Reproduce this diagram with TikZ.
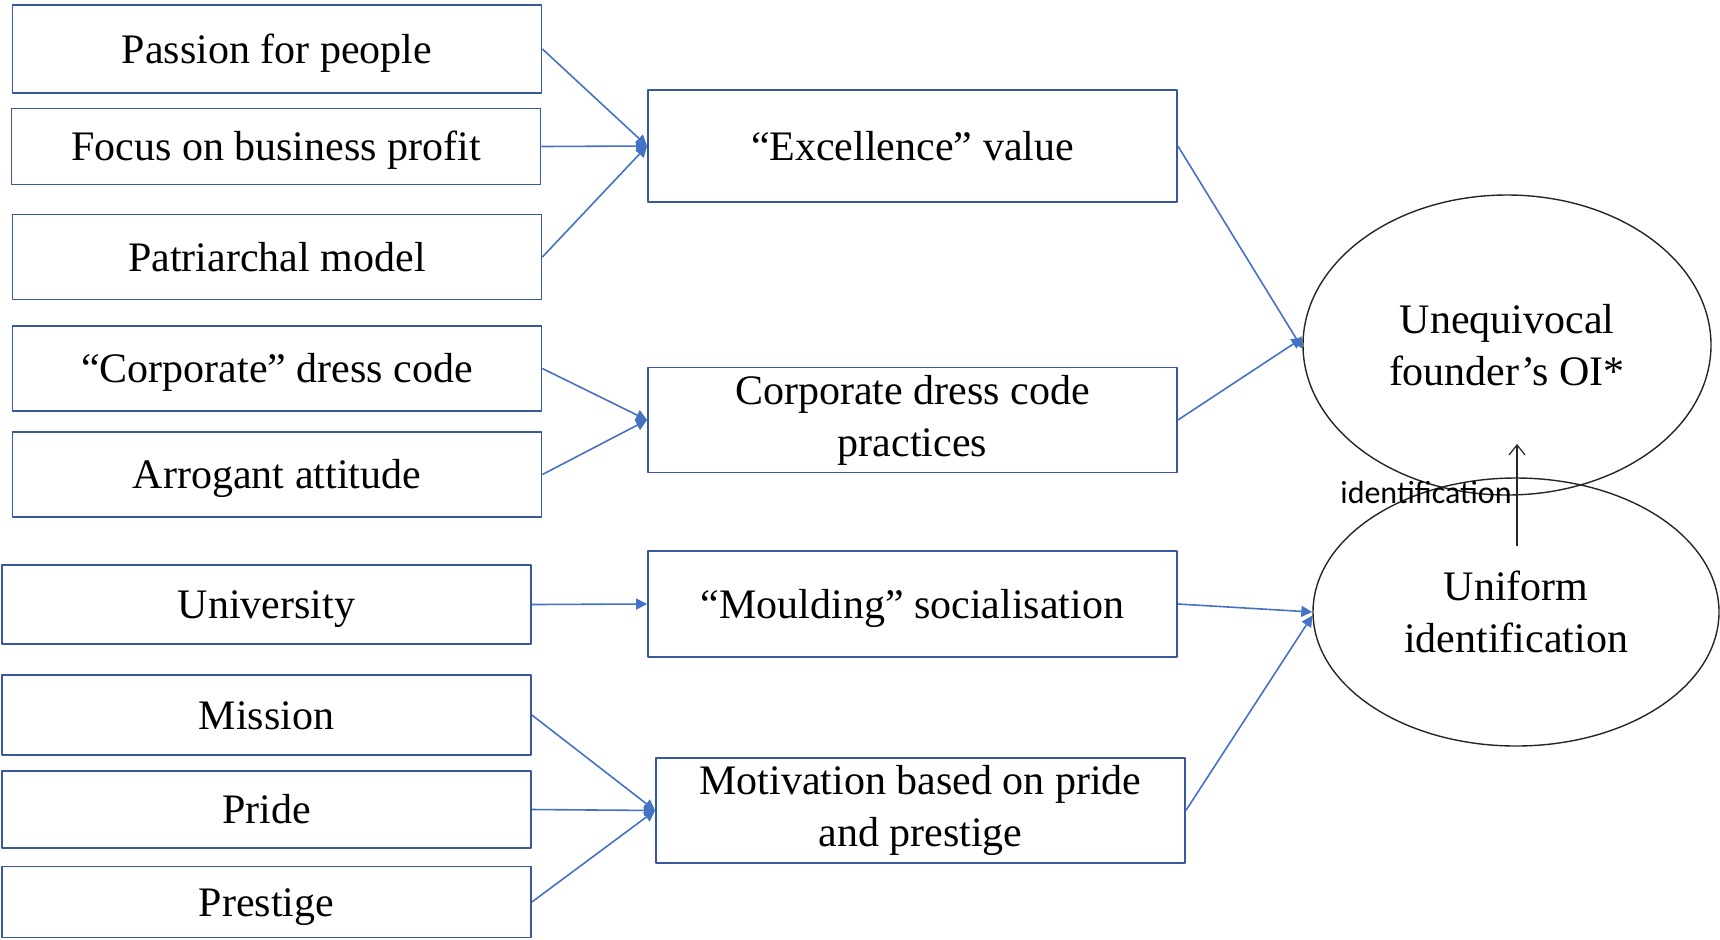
\documentclass[tikz,border=0pt]{standalone}
\usepackage{fontspec}
\setmainfont{Liberation Serif}
\newfontfamily\labelfont{Carlito}
\usetikzlibrary{shapes.geometric,arrows.meta}
\definecolor{boxblue}{RGB}{56,87,158}
\definecolor{arrowblue}{RGB}{68,114,196}

\begin{document}
\begin{tikzpicture}[x=0.5pt, y=-0.5pt, font=\fontsize{21}{26}\selectfont, line join=round,
  box/.style={draw=boxblue, line width=0.9pt, inner sep=0pt, minimum width=264.5pt, align=center},
  single/.style={box, text height=15pt, text depth=1pt},
  oval/.style={ellipse, draw=black!85, line width=0.7pt, inner sep=0pt, align=center},
  link/.style={draw=arrowblue, line width=0.8pt, -{Triangle[length=5.5pt,width=5.5pt]}}]
  \useasboundingbox (0,0) rectangle (1720,939);
  % left column: sources
  \node[single, minimum height=44pt] (passion) at (277,49) {Passion for people};
  \node[single, minimum height=38pt] (profit) at (276,146.5) {Focus on business profit};
  \node[single, minimum height=42.5pt] (patriarch) at (277,257) {Patriarchal model};
  \node[single, minimum height=42.5pt] (dresscode) at (277,368.5) {“Corporate” dress code};
  \node[single, minimum height=42.5pt] (arrogant) at (277,474.5) {Arrogant attitude};
  \node[single, minimum height=39.5pt] (university) at (266.5,604.5) {University};
  \node[single, minimum height=40pt] (mission) at (266.5,715) {Mission};
  \node[single, minimum height=38.5pt] (pride) at (266.5,809.5) {Pride};
  \node[single, minimum height=35.5pt] (prestige) at (266.5,902) {Prestige};
  % middle column
  \node[single, minimum height=56pt] (excellence) at (912.5,146) {“Excellence” value};
  \node[box, minimum height=52.5pt] (practices) at (912.5,420) {Corporate dress code\\practices};
  \node[single, minimum height=53pt] (moulding) at (912.5,604) {“Moulding” socialisation};
  \node[box, minimum height=52.5pt] (motivation) at (920.5,810.5) {Motivation based on pride\\and prestige};
  % right: identifications
  \node[oval, minimum width=204pt, minimum height=150pt] (oi) at (1507,345) {Unequivocal\\founder’s OI*};
  \node[oval, minimum width=203pt, minimum height=134pt] (uniform) at (1516,612) {Uniform\\identification};
  \coordinate (idtail) at (1517,546);
  \coordinate (idhead) at (1517,444);
  \draw[black!85, line width=0.6pt, -{Straight Barb[length=5pt,width=8pt]}] (idtail) -- (idhead);
  \node[font=\labelfont\fontsize{16}{19}\selectfont, inner sep=0pt] (idlabel) at (1426,492) {identification};
  % connectors
  \draw[link] (passion.east) -- (excellence.west);
  \draw[link] (profit.east) -- (excellence.west);
  \draw[link] (patriarch.east) -- (excellence.west);
  \draw[link] (dresscode.east) -- (practices.west);
  \draw[link] (arrogant.east) -- (practices.west);
  \draw[link] (university.east) -- (moulding.west);
  \draw[link] (mission.east) -- (motivation.west);
  \draw[link] (pride.east) -- (motivation.west);
  \draw[link] (prestige.east) -- (motivation.west);
  \draw[link] (excellence.east) -- (oi.181);
  \draw[link] (practices.east) -- (oi.178);
  \draw[link] (moulding.east) -- (uniform.west);
  \draw[link] (motivation.east) -- (uniform.181);
\end{tikzpicture}
\end{document}
